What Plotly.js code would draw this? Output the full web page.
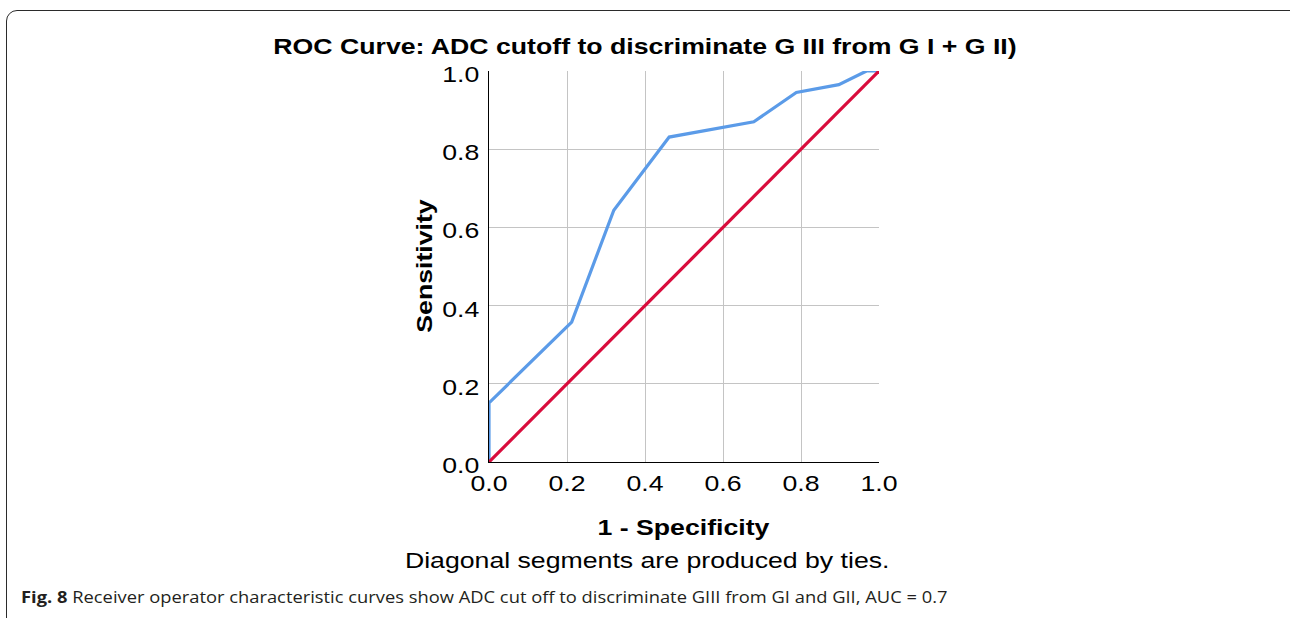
<!DOCTYPE html>
<html>
<head>
<meta charset="utf-8">
<script src="https://cdn.plot.ly/plotly-3.0.1.min.js"></script>
<style>
  html, body { margin: 0; padding: 0; background: #fff; overflow: hidden; }
  #chart { width: 1290px; height: 618px; }
  #frame { position: absolute; left: 6px; top: 10px; width: 1320px; height: 700px;
           border: 1.6px solid #2b2b2b; border-radius: 11px; pointer-events: none; }
</style>
</head>
<body>
<div id="chart"></div>
<div id="frame"></div>
<script>
// ROC curve points (1 - Specificity, Sensitivity)
const fpr = [0.000, 0.000, 0.212, 0.320, 0.462, 0.679, 0.788, 0.897, 0.968, 1.000];
const tpr = [0.000, 0.151, 0.358, 0.644, 0.831, 0.870, 0.945, 0.965, 1.000, 1.000];
// Reference line
const refX = [0, 1];
const refY = [0, 1];
const tickVals = [0, 0.2, 0.4, 0.6, 0.8, 1.0];
const tickText = ['0.0', '0.2', '0.4', '0.6', '0.8', '1.0'];

const titleText = 'ROC Curve: ADC cutoff to discriminate G III from G I + G II)';
const xTitle = '1 - Specificity';
const yTitle = 'Sensitivity';
const noteText = 'Diagonal segments are produced by ties.';
const captionText = '<b>Fig. 8</b> Receiver operator characteristic curves show ADC cut off to discriminate GIII from GI and GII, AUC = 0.7';

const SANS = 'Arial, "Liberation Sans", sans-serif';
const FS = 22.8;          // chart text size
const STRETCH = 1.17;     // the chart's lettering is wide
const CAPTION_W = 927;    // caption width in pixels

const traces = [
  { x: fpr, y: tpr, type: 'scatter', mode: 'lines', name: 'ADC',
    line: { color: '#5b9be8', width: 3.2 }, hoverinfo: 'x+y' },
  { x: refX, y: refY, type: 'scatter', mode: 'lines', name: 'Reference Line',
    line: { color: '#d90c3c', width: 3.2 }, hoverinfo: 'skip' }
];

const W = 1290, H = 618;
const L = 489, R = 411, T = 71, B = 156;
const pw = W - L - R, ph = H - T - B;
function px(x) { return (x - L) / pw; }
function py(y) { return (H - B - y) / ph; }

const layout = {
  width: W, height: H,
  margin: { l: L, r: R, t: T, b: B, pad: 0 },
  paper_bgcolor: '#ffffff', plot_bgcolor: '#ffffff',
  showlegend: false,
  font: { family: SANS, color: '#000' },
  title: { text: '<b>' + titleText + '</b>', font: { family: SANS, size: FS, color: '#000' },
           x: 0.5, xref: 'container', xanchor: 'center', y: 1 - 46 / H, yref: 'container', yanchor: 'middle' },
  xaxis: {
    range: [0, 1], tickvals: tickVals, ticktext: tickText,
    showgrid: true, gridcolor: '#c4c4c4', gridwidth: 1,
    zeroline: false, showline: true, linecolor: '#000', linewidth: 1.2,
    ticks: '', tickfont: { family: SANS, size: FS, color: '#000' }, fixedrange: true,
    title: { text: '' }
  },
  yaxis: {
    range: [0, 1], tickvals: tickVals, ticktext: tickText,
    showgrid: true, gridcolor: '#c4c4c4', gridwidth: 1,
    zeroline: false, showline: true, linecolor: '#000', linewidth: 1.2,
    ticks: 'outside', ticklen: 4, tickcolor: 'rgba(0,0,0,0)', ticklabelshift: 3,
    tickfont: { family: SANS, size: FS, color: '#000' }, fixedrange: true,
    title: { text: '' }
  },
  annotations: [
    { text: '<b>' + yTitle + '</b>', xref: 'paper', yref: 'paper', x: px(424), y: py(266),
      xanchor: 'center', yanchor: 'middle', textangle: -90, showarrow: false,
      font: { family: SANS, size: FS, color: '#000' } },
    { text: '<b>' + xTitle + '</b>', xref: 'paper', yref: 'paper', x: px(683), y: py(527),
      xanchor: 'center', yanchor: 'middle', showarrow: false,
      font: { family: SANS, size: FS, color: '#000' } },
    { text: noteText, xref: 'paper', yref: 'paper', x: px(647), y: py(560),
      xanchor: 'center', yanchor: 'middle', showarrow: false,
      font: { family: SANS, size: FS, color: '#000' } },
    { text: captionText, xref: 'paper', yref: 'paper', x: px(19), y: py(597),
      xanchor: 'left', yanchor: 'middle', showarrow: false, align: 'left',
      font: { family: '"Open Sans", sans-serif', size: 15.5, color: '#231f20' } }
  ]
};

Plotly.newPlot('chart', traces, layout, { displayModeBar: false, staticPlot: true }).then(function (gd) {
  // widen lettering along its baseline, around each label's anchor point
  gd.querySelectorAll('svg.main-svg text').forEach(function (t) {
    let s = STRETCH;
    if (t.textContent.indexOf('Fig.') === 0) {
      const len = t.getComputedTextLength();
      if (len > 0) s = CAPTION_W / len;
    }
    const x = parseFloat(t.getAttribute('x')) || 0;
    const y = parseFloat(t.getAttribute('y')) || 0;
    const prev = t.getAttribute('transform') || '';
    t.setAttribute('transform', prev + ' translate(' + x + ',' + y + ') scale(' + s + ',1) translate(' + (-x) + ',' + (-y) + ')');
  });
});
</script>
</body>
</html>
